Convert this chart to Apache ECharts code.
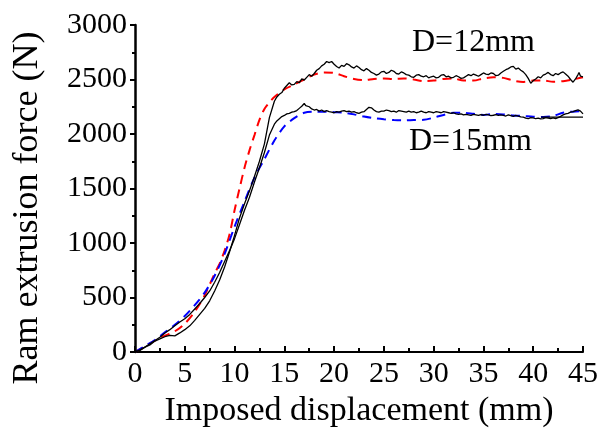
<!DOCTYPE html>
<html>
<head>
<meta charset="utf-8">
<script src="https://cdn.jsdelivr.net/npm/echarts@6/dist/echarts.min.js"></script>
<style>
html,body{margin:0;padding:0;background:#fff;}
#chart{width:602px;height:435px;}
</style>
</head>
<body>
<div id="chart"></div>
<script>
// Axis settings
var xTicks = [0, 5, 10, 15, 20, 25, 30, 35, 40, 45];
var yTicks = [0, 500, 1000, 1500, 2000, 2500, 3000];
var xName = 'Imposed displacement (mm)';
var yName = 'Ram extrusion force (N)';
var labels = ['D=12mm', 'D=15mm'];

// Experimental D=12mm (black, noisy)
var exp12 = [[0,0],[0.5,15],[1,45],[1.5,65],[2,100],[2.5,120],[3,140],[3.5,152],[4,148],[4.5,175],[5,205],[5.5,240],[6,290],[6.5,345],[7,400],[7.5,470],[8,560],[8.5,660],[9,780],[9.5,920],[10,1070],[10.5,1230],[11,1360],[11.5,1480],[12,1610],[12.5,1750],[13,1910],[13.5,2150],[14,2300],[14.25,2340],[14.5,2365],[14.75,2380],[15,2420],[15.25,2445],[15.5,2470],[15.75,2450],[16,2455],[16.25,2480],[16.5,2470],[16.75,2505],[17,2495],[17.25,2520],[17.5,2545],[17.75,2530],[18,2555],[18.25,2585],[18.5,2600],[18.75,2625],[19,2640],[19.25,2665],[19.5,2655],[19.75,2665],[20,2640],[20.25,2620],[20.5,2605],[20.75,2630],[21,2620],[21.25,2645],[21.5,2635],[21.75,2615],[22,2605],[22.25,2625],[22.5,2610],[22.75,2590],[23,2580],[23.25,2600],[23.5,2585],[23.75,2565],[24,2555],[24.25,2540],[24.5,2550],[24.75,2570],[25,2575],[25.25,2555],[25.5,2565],[25.75,2585],[26,2575],[26.25,2555],[26.5,2550],[26.75,2570],[27,2560],[27.25,2545],[27.5,2540],[27.75,2525],[28,2520],[28.25,2540],[28.5,2545],[28.75,2530],[29,2525],[29.25,2535],[29.5,2515],[29.75,2525],[30,2530],[30.25,2515],[30.5,2520],[30.75,2540],[31,2545],[31.25,2525],[31.5,2530],[31.75,2515],[32,2520],[32.25,2535],[32.5,2525],[32.75,2510],[33,2515],[33.25,2530],[33.5,2545],[33.75,2535],[34,2550],[34.25,2540],[34.5,2530],[34.75,2545],[35,2560],[35.25,2550],[35.5,2545],[35.75,2560],[36,2555],[36.25,2535],[36.5,2540],[36.75,2560],[37,2575],[37.25,2590],[37.5,2600],[37.75,2615],[38,2620],[38.25,2595],[38.5,2605],[38.75,2585],[39,2570],[39.25,2545],[39.5,2510],[39.75,2465],[40,2490],[40.25,2505],[40.5,2525],[40.75,2515],[41,2540],[41.25,2550],[41.5,2565],[41.75,2545],[42,2535],[42.25,2555],[42.5,2545],[42.75,2560],[43,2570],[43.25,2550],[43.5,2530],[43.75,2500],[44,2475],[44.25,2505],[44.5,2545],[44.6,2565],[44.75,2530],[45,2525]];

// Experimental D=15mm (black, noisy)
var exp15 = [[0,0],[0.5,20],[1,45],[1.5,75],[2,105],[2.5,135],[3,175],[3.5,205],[4,240],[4.5,275],[5,305],[5.5,345],[6,395],[6.5,445],[7,500],[7.5,560],[8,640],[8.5,730],[9,830],[9.5,930],[10,1040],[10.5,1170],[11,1300],[11.5,1420],[12,1560],[12.5,1690],[13,1830],[13.5,1990],[14,2090],[14.25,2120],[14.5,2140],[14.75,2160],[15,2170],[15.25,2185],[15.5,2190],[15.75,2200],[16,2205],[16.25,2215],[16.5,2235],[16.75,2255],[17,2280],[17.15,2260],[17.3,2245],[17.5,2250],[17.75,2230],[18,2220],[18.25,2225],[18.5,2210],[18.75,2220],[19,2205],[19.25,2215],[19.5,2205],[19.75,2200],[20,2195],[20.25,2205],[20.5,2200],[20.75,2210],[21,2215],[21.25,2205],[21.5,2210],[21.75,2200],[22,2205],[22.25,2195],[22.5,2190],[22.75,2200],[23,2205],[23.25,2225],[23.5,2245],[23.75,2240],[24,2220],[24.25,2205],[24.5,2200],[24.75,2210],[25,2210],[25.25,2220],[25.5,2215],[25.75,2205],[26,2210],[26.25,2200],[26.5,2215],[26.75,2210],[27,2205],[27.25,2200],[27.5,2210],[27.75,2200],[28,2205],[28.25,2195],[28.5,2200],[28.75,2210],[29,2200],[29.25,2195],[29.5,2205],[29.75,2200],[30,2195],[30.25,2205],[30.5,2200],[30.75,2195],[31,2205],[31.25,2200],[31.5,2195],[31.75,2190],[32,2195],[32.25,2185],[32.5,2180],[32.75,2185],[33,2175],[33.25,2180],[33.5,2175],[33.75,2170],[34,2180],[34.25,2175],[34.5,2170],[34.75,2178],[35,2172],[35.25,2180],[35.5,2175],[35.75,2168],[36,2172],[36.25,2178],[36.5,2170],[36.75,2175],[37,2170],[37.25,2165],[37.5,2175],[37.75,2168],[38,2162],[38.25,2170],[38.5,2165],[38.75,2158],[39,2155],[39.25,2145],[39.5,2140],[39.75,2150],[40,2148],[40.25,2140],[40.5,2145],[40.75,2138],[41,2142],[41.25,2150],[41.5,2145],[41.75,2140],[42,2148],[42.25,2142],[42.5,2150],[42.75,2162],[43,2175],[43.25,2185],[43.5,2190],[43.75,2200],[44,2205],[44.25,2215],[44.5,2222],[44.75,2210],[45,2185]];

// Short flat end segment of the D=15mm record
var exp15Tail = [[40.8,2155],[45,2155]];

// Simulation D=12mm (red dashed)
var sim12 = [[0,0],[1,50],[2,105],[3,150],[4,190],[5,260],[6,370],[7,520],[8,720],[8.5,810],[9,930],[9.5,1080],[10,1300],[10.5,1500],[11,1690],[11.5,1850],[12,1990],[12.5,2130],[13,2230],[13.5,2290],[14,2340],[15,2410],[16,2455],[17,2500],[18,2545],[19,2565],[20,2560],[21,2530],[22,2505],[23,2495],[24,2505],[25,2510],[26,2505],[27,2510],[28,2500],[29,2485],[30,2490],[31,2505],[32,2510],[33,2490],[34,2490],[35,2510],[36,2520],[37,2515],[38,2490],[39,2478],[40,2490],[41,2490],[42,2480],[43,2485],[44,2500],[45,2520]];

// Simulation D=15mm (blue dashed)
var sim15 = [[0,0],[1,55],[2,110],[3,180],[4,250],[5,330],[6,430],[7,545],[8,700],[9,900],[10,1150],[11,1380],[12,1600],[13,1770],[14,1940],[15,2070],[16,2145],[17,2195],[18,2205],[19,2205],[20,2200],[21,2195],[22,2180],[23,2160],[24,2145],[25,2135],[26,2128],[27,2125],[28,2128],[29,2130],[30,2150],[31,2175],[32,2195],[33,2195],[34,2185],[35,2175],[36,2185],[37,2180],[38,2170],[39,2165],[40,2158],[41,2156],[42,2165],[43,2195],[44,2205],[45,2210]];

var FONT = '"Liberation Serif","Times New Roman",serif';
var chart = echarts.init(document.getElementById('chart'), null, {renderer: 'canvas'});

function line(data, color, width, dashed, smooth) {
  return {
    type: 'line', data: data, showSymbol: false, symbol: 'none', smooth: smooth ? 0.3 : false,
    lineStyle: {color: color, width: width, type: dashed ? [9, 6] : 'solid'},
    animation: false, z: dashed ? 3 : 4
  };
}
function plain(v) { return String(v); }

chart.setOption({
  animation: false,
  backgroundColor: '#fff',
  grid: {left: 135, right: 19, top: 25, bottom: 83, containLabel: false},
  xAxis: {
    type: 'value', min: xTicks[0], max: xTicks[xTicks.length - 1], interval: 5,
    name: xName, nameLocation: 'middle', nameGap: 40,
    nameTextStyle: {fontFamily: FONT, fontSize: 34, color: '#000'},
    axisLine: {onZero: false, lineStyle: {color: '#000', width: 2}},
    axisTick: {inside: true, length: 6, lineStyle: {color: '#000', width: 2}},
    minorTick: {show: true, splitNumber: 2, length: 4, lineStyle: {color: '#000', width: 2}},
    axisLabel: {fontFamily: FONT, fontSize: 30, color: '#000', margin: 7, formatter: plain},
    splitLine: {show: false}
  },
  yAxis: {
    type: 'value', min: yTicks[0], max: yTicks[yTicks.length - 1], interval: 500,
    axisLine: {show: true, onZero: false, lineStyle: {color: '#000', width: 2.5, opacity: 1}},
    axisTick: {show: true, inside: false, length: 5, lineStyle: {color: '#000', width: 2}},
    minorTick: {show: true, splitNumber: 2, length: 3, lineStyle: {color: '#000', width: 2}},
    axisLabel: {fontFamily: FONT, fontSize: 30, color: '#000', margin: 8, formatter: plain},
    splitLine: {show: false},
    z: 10
  },
  series: [
    line(sim12, '#ff0000', 2, true, true),
    line(sim15, '#0000ff', 2, true, true),
    line(exp12, '#000000', 1.3, false, false),
    line(exp15, '#000000', 1.3, false, false),
    line(exp15Tail, '#000000', 1.3, false, false)
  ],
  graphic: [
    {type: 'text', x: 28, y: 208, rotation: Math.PI / 2,
     style: {text: yName, font: '36px ' + FONT, fill: '#000', align: 'center', verticalAlign: 'middle'}},
    {type: 'text', left: 412, top: 27, style: {text: labels[0], font: '32px ' + FONT, fill: '#000'}},
    {type: 'text', left: 409, top: 126, style: {text: labels[1], font: '32px ' + FONT, fill: '#000'}}
  ]
});
</script>
</body>
</html>
